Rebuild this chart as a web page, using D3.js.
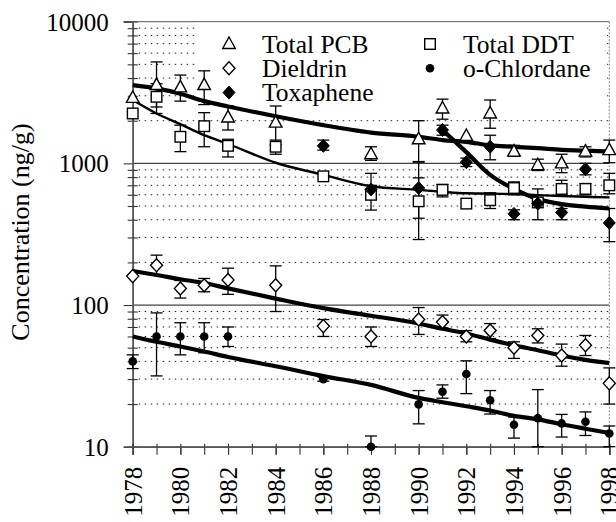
<!DOCTYPE html>
<html>
<head>
<meta charset="utf-8">
<script src="https://cdn.jsdelivr.net/npm/d3@7"></script>
<style>
  body { margin: 0; background: #fff; }
</style>
</head>
<body>
<svg id="chart" width="616" height="522" style="font-family: 'Liberation Serif', 'DejaVu Serif', serif"></svg>
<script>
// [year, value, low, high]  (ng/g)
const pcb = [
  [1978, 2900, null, null], [1979, 3570, 2500, 5200], [1980, 3440, 2750, 4200],
  [1981, 3570, 2600, 4500], [1982, 2110, 1720, 2540], [1984, 1940, 1350, 2540],
  [1988, 1160, 1050, 1310], [1990, 1480, 1030, 2000], [1991, 2440, 2050, 2840],
  [1992, 1560, null, null], [1993, 2250, 1770, 2800], [1994, 1210, 1120, 1340],
  [1995, 970, 890, 1070], [1996, 1000, 860, 1160], [1997, 1210, 1110, 1310],
  [1998, 1240, 1010, 1460]
];
const ddt = [
  [1978, 2250, null, null], [1979, 2950, 2250, 3650], [1980, 1540, 1210, 1860],
  [1981, 1830, 1310, 2280], [1982, 1330, 1110, 1480], [1984, 1310, 1160, 1460],
  [1986, 810, null, null], [1988, 600, 468, 700], [1990, 540, 290, 790],
  [1991, 650, 580, 710], [1992, 520, null, null], [1993, 550, 480, 620],
  [1994, 670, 600, 740], [1995, 530, 400, 660], [1996, 660, 610, 760],
  [1997, 660, 600, 720], [1998, 700, 610, 850]
];
const toxaphene = [
  [1986, 1330, 1240, 1460], [1988, 655, 560, 850], [1990, 670, 410, 1020],
  [1991, 1720, 1580, 1860], [1992, 1020, 950, 1090], [1993, 1310, 1060, 1580],
  [1994, 440, 400, 470], [1995, 520, null, null], [1996, 450, 400, 480],
  [1997, 910, 830, 1000], [1998, 380, 280, 480]
];
const dieldrin = [
  [1978, 160, null, null], [1979, 191, 163, 225], [1980, 131, 112, 149],
  [1981, 138, 124, 154], [1982, 150, 119, 182], [1984, 138, 90, 189],
  [1986, 71, 60, 79], [1988, 60, 51, 70], [1990, 79, 62, 96],
  [1991, 76, 69, 85], [1992, 60, 55, 66], [1993, 66, 58, 74],
  [1994, 50, 42, 55], [1995, 61, 54, 68], [1996, 44, 37, 53],
  [1997, 52, 44, 61], [1998, 28, 20, 36]
];
const chlordane = [
  [1978, 40, 35.6, 44.5], [1979, 60, 31.6, 88], [1980, 60, 44.5, 75],
  [1981, 60, 46, 75], [1982, 60, 51, 70], [1986, 30, 29, 31],
  [1988, 10, 10, 11.9], [1990, 19.9, 14.5, 24.9], [1991, 24.4, 22, 27.3],
  [1992, 32.6, 23.7, 40.4], [1993, 21.3, 17, 24.9], [1994, 14.3, 11.5, 16.2],
  [1995, 15.9, 10, 25.3], [1996, 14.6, 11.7, 16.9], [1997, 15, 12, 17.6],
  [1998, 12.4, 10, 14]
];

// fitted trend lines [year, value]
const pcbTrend = [[1978,3570],[1979,3380],[1980,3100],[1981,2750],[1982,2520],[1984,2150],[1986,1860],
  [1988,1650],[1990,1540],[1991,1460],[1992,1420],[1993,1340],[1994,1310],[1995,1280],[1996,1245],[1997,1230],[1998,1210]];
const ddtTrend = [[1978,2800],[1979,2250],[1980,1890],[1981,1580],[1982,1370],[1984,1010],[1986,830],
  [1988,690],[1990,650],[1991,630],[1992,615],[1993,612],[1994,607],[1995,597],[1996,588],[1997,581],[1998,575]];
const toxTrend = [[1991,1720],[1992,1200],[1993,830],[1994,660],[1995,560],[1996,515],[1997,495],[1998,480]];
const dieldrinTrend = [[1978,174],[1979,163],[1980,152],[1981,143],[1982,131],[1984,111],[1986,95],
  [1988,84],[1990,74],[1991,68],[1992,63],[1993,57],[1994,52],[1995,48],[1996,44],[1997,41],[1998,39]];
const chlordaneTrend = [[1978,60],[1979,55],[1980,51],[1981,47],[1982,43],[1984,37],[1986,31.5],
  [1988,27.3],[1990,22.1],[1991,20.6],[1992,19.3],[1993,18],[1994,16.5],[1995,15.6],[1996,14.4],[1997,13.4],[1998,12.5]];

const yMajor = [10, 100, 1000, 10000];
const yearLabels = d3.range(1978, 1999, 2);
const years = d3.range(1978, 1999);
const legendItems = [
  { name: "Total PCB", shape: "triangle" },
  { name: "Total DDT", shape: "square" },
  { name: "Dieldrin", shape: "diamond" },
  { name: "o-Chlordane", shape: "dot" },
  { name: "Toxaphene", shape: "fdiamond" }
];

const FONT = "'Liberation Serif', 'Times New Roman', 'DejaVu Serif', serif";
const margin = { top: 21.7, left: 132.7 };
const width = 476.6, height = 425;

const svg = d3.select("#chart");
const g = svg.append("g").attr("transform", `translate(${margin.left},${margin.top})`);

const x = d3.scaleLinear().domain([1978, 1998]).range([0, width]);
const y = d3.scaleLog().domain([10, 10000]).range([height, 0]);

// minor values 2..9 per decade
const yMinor = [];
[10, 100, 1000].forEach(d => { for (let k = 2; k <= 9; k++) yMinor.push(d * k); });

// dotted grid
g.append("g").selectAll("line").data(yMinor).enter().append("line")
  .attr("x1", 0).attr("x2", width)
  .attr("y1", d => y(d)).attr("y2", d => y(d))
  .attr("stroke", "#222").attr("stroke-width", 1).attr("stroke-dasharray", "1.5,4.5");

// solid decade lines
g.append("g").selectAll("line").data([100, 1000]).enter().append("line")
  .attr("x1", 0).attr("x2", width)
  .attr("y1", d => y(d)).attr("y2", d => y(d))
  .attr("stroke", "#444").attr("stroke-width", 1.2);

// frame top / right
g.append("line").attr("x1", -9).attr("x2", width).attr("y1", 0).attr("y2", 0)
  .attr("stroke", "#777").attr("stroke-width", 1.2);
g.append("line").attr("x1", width).attr("x2", width).attr("y1", 0).attr("y2", height)
  .attr("stroke", "#888").attr("stroke-width", 1).attr("stroke-dasharray", "2,1.5");

// legend background hides the grid
g.append("rect").attr("x", 195 - margin.left).attr("y", 1)
  .attr("width", 607 - 195).attr("height", 86).attr("fill", "#fff");

// y axis
const yAxis = g.append("g")
  .call(d3.axisLeft(y).tickValues(yMajor).tickFormat(d3.format("d")).tickSize(9).tickPadding(15));
yAxis.selectAll("text").style("font-family", FONT).style("font-size", "25px").attr("dy", "0.34em");
g.append("g").call(d3.axisLeft(y).tickValues(yMinor).tickFormat("").tickSize(5));
g.append("g").call(d3.axisRight(y).tickValues(yMinor).tickFormat("").tickSize(5));

// x axis
const xAxis = g.append("g").attr("transform", `translate(0,${height})`)
  .call(d3.axisBottom(x).tickValues(yearLabels).tickFormat(d3.format("d")).tickSize(8).tickPadding(14));
xAxis.selectAll("text")
  .style("font-family", FONT)
  .style("font-size", "25px")
  .attr("text-anchor", "end")
  .attr("transform", "rotate(-90)")
  .attr("x", -20).attr("y", 0).attr("dy", "0.34em");
g.append("g").attr("transform", `translate(0,${height})`)
  .call(d3.axisBottom(x).tickValues(years).tickFormat("").tickSize(8));
g.append("g").attr("transform", `translate(0,${height})`)
  .call(d3.axisTop(x).tickValues(years).tickFormat("").tickSize(3));

g.selectAll(".domain").attr("stroke", "#555").attr("stroke-width", 1.2);
g.selectAll(".tick line").attr("stroke", "#333").attr("stroke-width", 1.1);

// y title
svg.append("text")
  .attr("transform", `translate(29,232) rotate(-90)`)
  .attr("text-anchor", "middle")
  .style("font-family", FONT)
  .style("font-size", "26px")
  .text("Concentration (ng/g)");

// error bars
function errorBars(data) {
  const eb = g.append("g").attr("stroke", "#000").attr("stroke-width", 1.3).attr("fill", "none");
  data.filter(d => d[2] != null).forEach(d => {
    const cx = x(d[0]);
    eb.append("line").attr("x1", cx).attr("x2", cx).attr("y1", y(d[2])).attr("y2", y(d[3]));
    [d[2], d[3]].forEach(v => {
      eb.append("line").attr("x1", cx - 6).attr("x2", cx + 6).attr("y1", y(v)).attr("y2", y(v));
    });
  });
}
[pcb, ddt, toxaphene, dieldrin, chlordane].forEach(errorBars);

// trend lines
const line = d3.line().x(d => x(d[0])).y(d => y(d[1])).curve(d3.curveMonotoneX);
[[pcbTrend, 4.2], [ddtTrend, 2.4], [toxTrend, 4.2], [dieldrinTrend, 4.2], [chlordaneTrend, 4.2]]
  .forEach(([data, w]) => {
    g.append("path").datum(data).attr("d", line)
      .attr("fill", "none").attr("stroke", "#000").attr("stroke-width", w)
      .attr("stroke-linejoin", "round");
  });

// markers
function marker(sel, shape, cx, cy) {
  if (shape === "triangle") {
    sel.append("path").attr("d", `M${cx},${cy - 7}L${cx + 6.3},${cy + 4.5}L${cx - 6.3},${cy + 4.5}Z`)
      .attr("fill", "#fff").attr("stroke", "#000").attr("stroke-width", 1.4);
  } else if (shape === "square") {
    sel.append("rect").attr("x", cx - 5.3).attr("y", cy - 5.3).attr("width", 10.6).attr("height", 10.6)
      .attr("fill", "#fff").attr("stroke", "#000").attr("stroke-width", 1.4);
  } else if (shape === "diamond") {
    sel.append("path").attr("d", `M${cx},${cy - 6.5}L${cx + 6},${cy}L${cx},${cy + 6.5}L${cx - 6},${cy}Z`)
      .attr("fill", "#fff").attr("stroke", "#000").attr("stroke-width", 1.4);
  } else if (shape === "fdiamond") {
    sel.append("path").attr("d", `M${cx},${cy - 6.5}L${cx + 6},${cy}L${cx},${cy + 6.5}L${cx - 6},${cy}Z`)
      .attr("fill", "#000").attr("stroke", "#000").attr("stroke-width", 1);
  } else {
    sel.append("circle").attr("cx", cx).attr("cy", cy).attr("r", 4.3).attr("fill", "#000");
  }
}
const mk = g.append("g");
[[ddt, "square"], [pcb, "triangle"], [dieldrin, "diamond"], [toxaphene, "fdiamond"], [chlordane, "dot"]]
  .forEach(([data, shape]) => data.forEach(d => marker(mk, shape, x(d[0]), y(d[1]))));

// legend
const lg = svg.append("g");
legendItems.forEach((d, i) => {
  const col = i % 2, row = Math.floor(i / 2);
  const mx = col === 0 ? 229 : 430;
  const my = 44 + row * 24.3;
  marker(lg, d.shape, mx, my);
  lg.append("text").attr("x", mx + 33).attr("y", my + 8.5)
    .style("font-family", FONT)
    .style("font-size", "25.5px").text(d.name);
});
</script>
</body>
</html>
